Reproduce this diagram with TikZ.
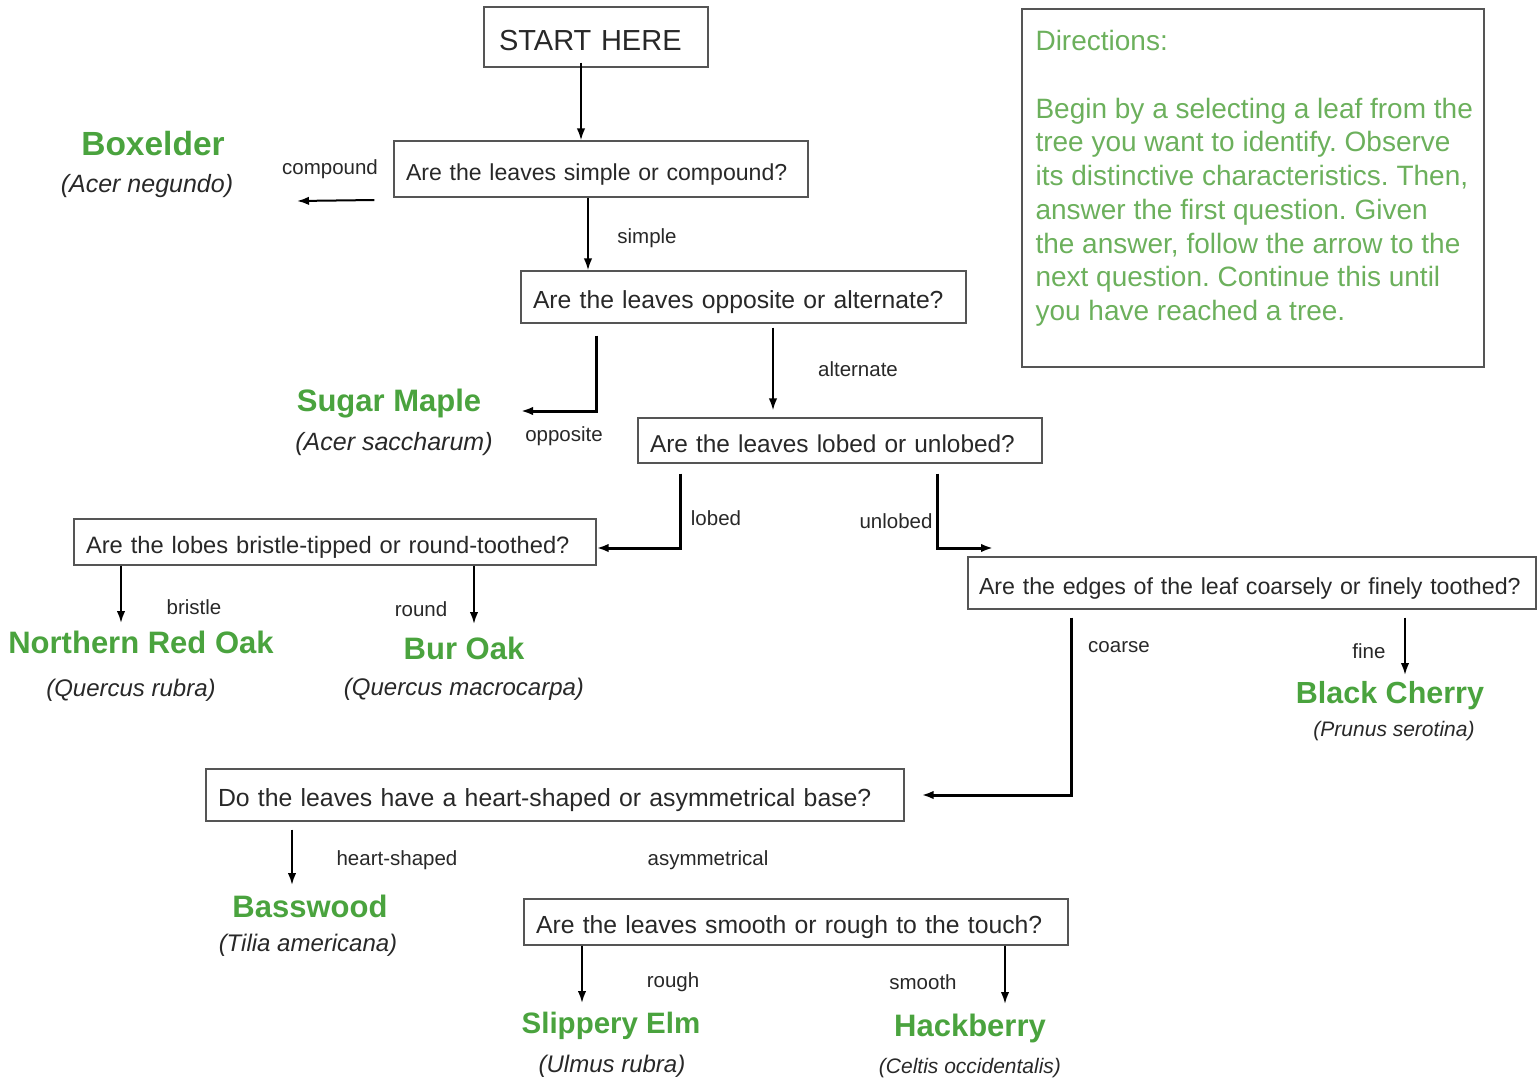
\documentclass[tikz,border=0pt]{standalone}
\usepackage{fontspec}
\setmainfont{Liberation Sans}
\usetikzlibrary{arrows.meta,positioning}
\definecolor{leafgreen}{RGB}{74,163,62}
\definecolor{dirgreen}{RGB}{108,176,92}
\definecolor{boxgray}{RGB}{85,85,85}
\definecolor{ink}{RGB}{40,40,40}
\tikzstyle{aS}=[every edge/.style={draw,-{Latex[length=12pt,width=8.5pt]},line width=2pt}]
\tikzstyle{elbow}=[to path={|- (\tikztotarget)},line width=3pt]
\tikzstyle{qbox}=[draw=boxgray,line width=1.3pt,inner xsep=12pt,inner ysep=0pt,align=left,text=ink,text height=28pt,text depth=5pt,font=\fontsize{24.5}{29}\selectfont]
\tikzstyle{tree}=[inner sep=0,text=leafgreen,font=\fontsize{31}{36}\selectfont\bfseries]
\tikzstyle{latin}=[inner sep=0,text=ink,font=\fontsize{24}{28}\selectfont\itshape]
\tikzstyle{ans}=[inner sep=0,text=ink,font=\fontsize{20.5}{25}\selectfont]
\tikzstyle{dirtxt}=[inner sep=0,text=dirgreen,align=left,font=\fontsize{28}{33.7}\selectfont\frenchspacing]

\begin{document}
\begin{tikzpicture}[aS,x=1pt,y=-1pt]
  \useasboundingbox (0,0) rectangle (1537,1080);
  % questions
  \node[qbox,inner xsep=15pt,text width=194pt,minimum height=60pt,text height=33pt,text depth=6pt,font=\fontsize{29}{34}\selectfont] (start) at (596,37) {START HERE};
  \node[qbox,text width=390pt,minimum height=56pt,font=\fontsize{23.1}{29}\selectfont] (q1) at (601,169) {Are the leaves simple or compound?};
  \node[qbox,text width=421pt,minimum height=52pt,font=\fontsize{24.7}{29}\selectfont] (q2) at (743.5,297) {Are the leaves opposite or alternate?};
  \node[qbox,text width=380pt,minimum height=45pt,font=\fontsize{24.4}{29}\selectfont] (q3) at (840,440.5) {Are the leaves lobed or unlobed?};
  \node[qbox,text width=498pt,minimum height=46pt,font=\fontsize{23.7}{29}\selectfont] (q4) at (335,542) {Are the lobes bristle-tipped or round-toothed?};
  \node[qbox,inner xsep=11pt,text width=546pt,minimum height=52pt,font=\fontsize{23.2}{29}\selectfont] (q5) at (1252,583) {\mbox{Are the edges of the leaf coarsely or finely toothed?}};
  \node[qbox,text width=674pt,minimum height=52pt,font=\fontsize{24.8}{29}\selectfont] (q6) at (555,795) {Do the leaves have a heart-shaped or asymmetrical base?};
  \node[qbox,text width=520pt,minimum height=46pt,font=\fontsize{24.75}{29}\selectfont] (q7) at (796,922) {Are the leaves smooth or rough to the touch?};

  % directions
  \node[qbox,minimum width=462pt,minimum height=358pt] (dirbox) at (1253,188) {};
  \node[dirtxt,anchor=north west] (dirtext) at ([xshift=14pt,yshift=-22pt]dirbox.north west)
    {Directions:\\[33.7pt]Begin by a selecting a leaf from the\\tree you want to identify. Observe\\its distinctive characteristics. Then,\\answer the first question. Given\\the answer, follow the arrow to the\\next question. Continue this until\\you have reached a tree.};

  % trees
  \node[tree,font=\fontsize{33.5}{38}\selectfont\bfseries] (boxelder) at (153,144) {Boxelder};
  \node[latin,font=\fontsize{25}{28}\selectfont\itshape] (boxelderL) at (147,186) {(Acer negundo)};
  \node[tree] (sugar) at (389,404) {Sugar Maple};
  \node[latin,font=\fontsize{25}{28}\selectfont\itshape] (sugarL) at (394,444) {(Acer saccharum)};
  \node[tree] (redoak) at (141,642) {Northern Red Oak};
  \node[latin] (redoakL) at (131,690) {(Quercus rubra)};
  \node[tree] (buroak) at (464,648) {Bur Oak};
  \node[latin] (buroakL) at (464,689) {(Quercus macrocarpa)};
  \node[tree,font=\fontsize{30.5}{36}\selectfont\bfseries] (cherry) at (1390,696) {Black Cherry};
  \node[latin,font=\fontsize{21}{25}\selectfont\itshape] (cherryL) at (1394,731) {(Prunus serotina)};
  \node[tree] (basswood) at (310,906) {Basswood};
  \node[latin] (basswoodL) at (308,945) {(Tilia americana)};
  \node[tree,font=\fontsize{29.5}{36}\selectfont\bfseries] (elm) at (611,1026) {Slippery Elm};
  \node[latin] (elmL) at (612,1066) {(Ulmus rubra)};
  \node[tree] (hackberry) at (970,1028) {Hackberry};
  \node[latin,font=\fontsize{21}{25}\selectfont\itshape] (hackberryL) at (970,1068) {(Celtis occidentalis)};

  % answers
  \node[ans] (aCompound) at (330,169) {compound};
  \node[ans] (aSimple) at (647,238) {simple};
  \node[ans] (aOpposite) at (564,436) {opposite};
  \node[ans] (aAlternate) at (858,369) {alternate};
  \node[ans] (aLobed) at (716,518) {lobed};
  \node[ans] (aUnlobed) at (896,521) {unlobed};
  \node[ans] (aBristle) at (194,607) {bristle};
  \node[ans] (aRound) at (421,609) {round};
  \node[ans] (aCoarse) at (1119,647) {coarse};
  \node[ans] (aFine) at (1369,651) {fine};
  \node[ans] (aHeart) at (397,860) {heart-shaped};
  \node[ans] (aAsym) at (708,860) {asymmetrical};
  \node[ans] (aRough) at (673,982) {rough};
  \node[ans] (aSmooth) at (923,982) {smooth};

  % free arrow ends
  \coordinate (boxelderIn) at (297,201);
  \coordinate (sugarIn) at (521,411);
  \coordinate (redoakIn) at (121,623);
  \coordinate (buroakIn) at (474,624);
  \coordinate (cherryIn) at (1405,675);
  \coordinate (basswoodIn) at (292,885);
  \coordinate (elmIn) at (582,1003);
  \coordinate (hackberryIn) at (1005,1004);
  \coordinate (q5In) at (993,548);

  \path ([xshift=-15pt,yshift=5pt]start.south) edge ([xshift=-20pt]q1.north);
  \path ([xshift=-19pt,yshift=-31pt]q1.west) edge (boxelderIn);
  \path ([xshift=-13pt]q1.south) edge ([xshift=-155.5pt]q2.north);
  \path ([xshift=-147.5pt,yshift=-12pt]q2.south) edge[elbow] (sugarIn);
  \path ([xshift=29.5pt,yshift=-4pt]q2.south) edge ([xshift=-67pt,yshift=7pt]q3.north);
  \path ([xshift=-160pt,yshift=-10pt]q3.south) edge[elbow] ([yshift=-6pt]q4.east);
  \path ([xshift=97pt,yshift=-10pt]q3.south) edge[elbow] (q5In);
  \path ([xshift=-214pt]q4.south) edge (redoakIn);
  \path ([xshift=139pt]q4.south) edge (buroakIn);
  \path ([xshift=153pt,yshift=-8pt]q5.south) edge (cherryIn);
  \path ([xshift=-181pt,yshift=-8pt]q5.south) edge[elbow] ([xshift=17pt]q6.east);
  \path ([xshift=-263pt,yshift=-8pt]q6.south) edge (basswoodIn);
  \path ([xshift=-214pt]q7.south) edge (elmIn);
  \path ([xshift=209pt]q7.south) edge (hackberryIn);
\end{tikzpicture}
\end{document}
